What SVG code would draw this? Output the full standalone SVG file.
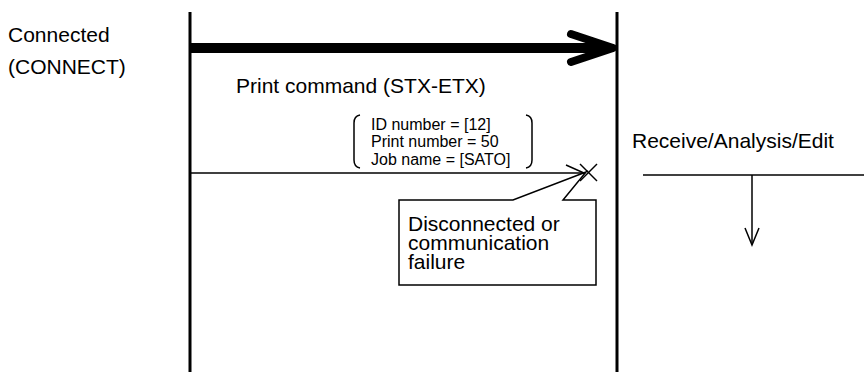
<svg xmlns="http://www.w3.org/2000/svg" width="864" height="372" viewBox="0 0 864 372">
<style>
text{font-family:"Liberation Sans",Arial,sans-serif;fill:#000}
.big{font-size:21px}
.small{font-size:16px}
.ln{stroke:#000;fill:none}
</style>
<rect width="864" height="372" fill="#fff"/>
<g id="lifelines">
<line class="ln" x1="190" y1="12" x2="190" y2="372" stroke-width="3"/>
<line class="ln" x1="617" y1="12" x2="617" y2="372" stroke-width="3"/>
</g>
<g id="label-connected">
<text class="big" x="8" y="42">Connected</text>
<text class="big" x="8" y="74">(CONNECT)</text>
</g>
<g id="connectors">
<line class="ln" x1="190" y1="48" x2="610" y2="48" stroke-width="10"/>
<polyline class="ln" points="571,34 613,48 571,62" stroke-width="8" stroke-linecap="round" stroke-linejoin="round"/>
<line class="ln" x1="191" y1="173" x2="584" y2="173" stroke-width="1.5"/>
<polyline class="ln" points="566,165 584,173 566,181" stroke-width="1.5"/>
<line class="ln" x1="643" y1="175" x2="864" y2="175" stroke-width="1.5"/>
<line class="ln" x1="752" y1="175" x2="752" y2="244" stroke-width="1.5"/>
<polyline class="ln" points="745,228 752,245 759,228" stroke-width="1.5"/>
</g>
<g id="print-command">
<text class="big" x="236" y="93">Print command (STX-ETX)</text>
<path class="ln" d="M360,115 Q354,116 354,123 L354,160 Q354,167 360,168" stroke-width="1.5"/>
<path class="ln" d="M526,115 Q532,116 532,123 L532,160 Q532,167 526,168" stroke-width="1.5"/>
<text class="small" x="371" y="130">ID number = [12]</text>
<text class="small" x="371" y="147">Print number = 50</text>
<text class="small" x="371" y="165">Job name = [SATO]</text>
</g>
<g id="failure-mark">
<line class="ln" x1="580" y1="164" x2="597" y2="181" stroke-width="1.5"/>
<line class="ln" x1="597" y1="164" x2="580" y2="181" stroke-width="1.5"/>
</g>
<g id="callout">
<path d="M399,200 L513,200 L586,172 L563,200 L596,200 L596,285 L399,285 Z" fill="#fff" stroke="#000" stroke-width="1.5" stroke-linejoin="miter"/>
<text class="big" x="408" y="231">Disconnected or</text>
<text class="big" x="408" y="250">communication</text>
<text class="big" x="408" y="269">failure</text>
</g>
<g id="receive">
<text class="big" x="632" y="148">Receive/Analysis/Edit</text>
</g>
</svg>
